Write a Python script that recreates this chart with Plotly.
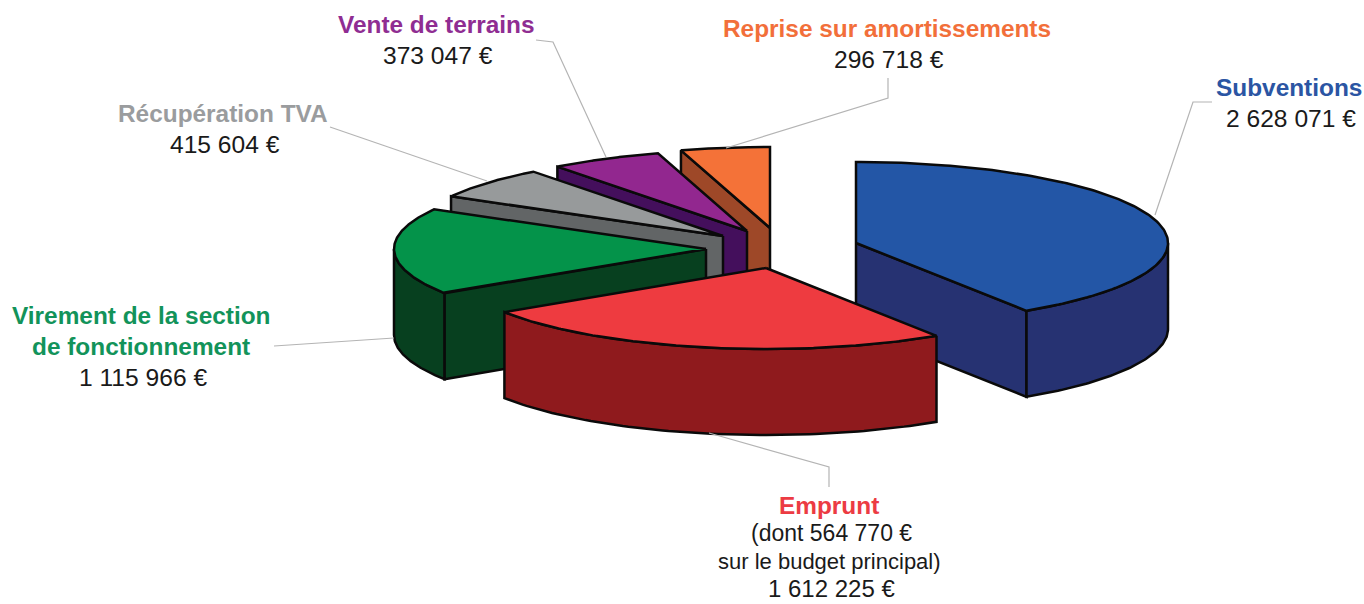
import numpy as np
import plotly.graph_objects as go

# ---------- data ----------
categories = ["Subventions", "Emprunt", "Virement de la section de fonctionnement",
              "Récupération TVA", "Vente de terrains", "Reprise sur amortissements"]
values = [2628071, 1612225, 1115966, 415604, 373047, 296718]

# ---------- style ----------
top_colors = ["#2356A6", "#EE3B40", "#04934A", "#979A9B", "#92278F", "#F47238"]
side_colors = ["#263272", "#8F1A1D", "#07401F", "#626566", "#440F5C", "#9E4828"]
label_colors = ["#2B55A3", "#EC3B43", "#12935A", "#9A9C9E", "#8F2D92", "#F26F3A"]
apexes = [(856, 243), (766, 268), (706, 249), (723, 236), (747, 231), (770, 228)]
RX, RY, DEPTH = 312, 81, 86
draw_order = [5, 4, 3, 2, 0, 1]


def to_px(apex, deg, dz=0.0):
    t = np.radians(deg)
    return apex[0] + RX * np.sin(t), apex[1] - RY * np.cos(t) + dz


fig = go.Figure()


def poly(xs, ys, color):
    fig.add_trace(go.Scatter(
        x=list(xs) + [xs[0]], y=list(ys) + [ys[0]], mode="lines", fill="toself",
        fillcolor=color, line=dict(color="#0A0A0A", width=2.5, shape="linear"),
        hoverinfo="skip", showlegend=False))


total = sum(values)
bounds = np.concatenate([[0], np.cumsum(values) / total * 360])

for i in draw_order:
    a0, a1 = bounds[i], bounds[i + 1]
    apex = apexes[i]
    side = side_colors[i]
    # flat inner faces: only the cut face that turns toward the viewer
    visible_edges = []
    if 180 < a0 < 360:
        visible_edges.append(a0)
    if 0 < a1 < 180:
        visible_edges.append(a1)
    for edge in visible_edges:
        ex, ey = to_px(apex, edge)
        poly([apex[0], ex, ex, apex[0]], [apex[1], ey, ey + DEPTH, apex[1] + DEPTH], side)
    # outer wall: only the part of the rim facing the viewer
    lo, hi = max(a0, 90), min(a1, 270)
    if lo < hi:
        th = np.linspace(lo, hi, 80)
        xt, yt = to_px(apex, th)
        poly(np.concatenate([xt, xt[::-1]]), np.concatenate([yt, yt[::-1] + DEPTH]), side)
    # top face
    th = np.linspace(a0, a1, 160)
    xt, yt = to_px(apex, th)
    poly(np.concatenate([[apex[0]], xt]), np.concatenate([[apex[1]], yt]), top_colors[i])

# ---------- leader lines ----------
leaders = [
    ([1155, 1193, 1212], [215, 102, 102]),
    ([709, 829, 829], [433, 467, 487]),
    ([274, 394], [346, 338]),
    ([330, 487], [127, 181]),
    ([536, 553, 606], [40, 42, 157]),
    ([726, 888, 888], [148, 98, 78]),
]
for lx, ly in leaders:
    fig.add_trace(go.Scatter(x=lx, y=ly, mode="lines", line=dict(color="#B4B4B4", width=1.2),
                             hoverinfo="skip", showlegend=False))


# ---------- labels ----------
def money(v):
    return f"{v:,}".replace(",", " ") + " €"


BOLD = dict(family="Liberation Sans", size=24.4)
REG = dict(family="Liberation Sans", size=22, color="#1A1A1A")
NUM = dict(family="Liberation Sans", size=24.6, color="#1A1A1A")
labels = [
    (1289, 87, "<b>Subventions</b>", 0, None), (1291, 118, money(values[0]), None, NUM),
    (829, 505, "<b>Emprunt</b>", 1, None), (831, 533, "(dont 564 770 €", None, dict(REG, size=23)),
    (829, 561, "sur le budget principal)", None, REG), (831, 588, money(values[1]), None, dict(NUM, size=24)),
    (141, 315, "<b>Virement de la section</b>", 2, None), (141, 346, "<b>de fonctionnement</b>", 2, None),
    (143, 377, money(values[2]), None, NUM),
    (223, 113, "<b>Récupération TVA</b>", 3, None), (225, 144, money(values[3]), None, NUM),
    (436, 24, "<b>Vente de terrains</b>", 4, None), (438, 55, money(values[4]), None, NUM),
    (887, 28, "<b>Reprise sur amortissements</b>", 5, None), (889, 59, money(values[5]), None, NUM),
]
for x, y, text, ci, f in labels:
    font = f if f is not None else dict(BOLD, color=label_colors[ci])
    fig.add_annotation(x=x, y=y, xref="x", yref="y", text=text, showarrow=False,
                       xanchor="center", yanchor="middle", font=font)

fig.update_layout(
    width=1364, height=604, margin=dict(l=0, r=0, t=0, b=0),
    paper_bgcolor="white", plot_bgcolor="white", showlegend=False,
    xaxis=dict(range=[0, 1364], visible=False, fixedrange=True),
    yaxis=dict(range=[604, 0], visible=False, fixedrange=True),
)
fig.write_html("out.html", config=dict(displayModeBar=False),
               post_script="document.body.style.margin='0';")
